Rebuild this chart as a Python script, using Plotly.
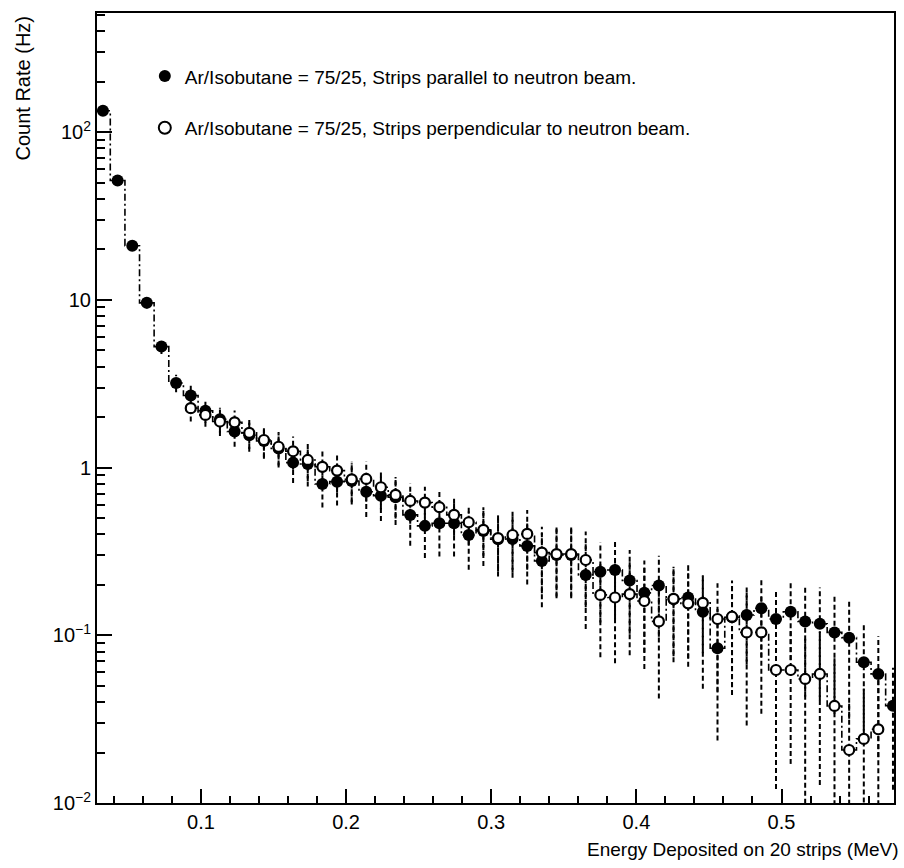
import plotly.graph_objects as go

# Bin centres (MeV)
energy = [0.0325, 0.0426, 0.0527, 0.0627, 0.0728, 0.0829, 0.0930, 0.1031, 0.1131, 0.1232,
          0.1333, 0.1434, 0.1535, 0.1635, 0.1736, 0.1837, 0.1938, 0.2039, 0.2139, 0.2240,
          0.2341, 0.2442, 0.2543, 0.2643, 0.2744, 0.2845, 0.2946, 0.3047, 0.3147, 0.3248,
          0.3349, 0.3450, 0.3551, 0.3651, 0.3752, 0.3853, 0.3954, 0.4055, 0.4155, 0.4256,
          0.4357, 0.4458, 0.4559, 0.4659, 0.4760, 0.4861, 0.4962, 0.5063, 0.5163, 0.5264,
          0.5365, 0.5466, 0.5567, 0.5667, 0.5768]

# Strips parallel to neutron beam (filled)
rate_par = [134, 51.4, 21.0, 9.59, 5.26, 3.19, 2.69, 2.18, 1.94, 1.64,
            1.56, 1.44, 1.30, 1.07, 1.05, 0.798, 0.824, 0.832, 0.718, 0.680,
            0.665, 0.522, 0.449, 0.465, 0.465, 0.396, 0.419, 0.374, 0.375, 0.341,
            0.277, 0.301, 0.301, 0.229, 0.239, 0.245, 0.212, 0.179, 0.198, 0.164,
            0.168, 0.138, 0.0836, 0.128, 0.132, 0.145, 0.125, 0.138, 0.121, 0.117,
            0.104, 0.0968, 0.069, 0.0588, 0.038]
err_par = [3, 2, 1.1, 0.7, 0.5, 0.38, 0.38, 0.33, 0.33, 0.31,
           0.32, 0.31, 0.30, 0.26, 0.28, 0.22, 0.23, 0.23, 0.21, 0.20,
           0.21, 0.18, 0.16, 0.17, 0.17, 0.15, 0.16, 0.15, 0.155, 0.14,
           0.13, 0.135, 0.135, 0.12, 0.12, 0.12, 0.11, 0.10, 0.10, 0.095,
           0.095, 0.09, 0.06, 0.084, 0.065, 0.071, 0.062, 0.067, 0.078, 0.076,
           0.07, 0.065, 0.046, 0.04, 0.026]

# Strips perpendicular to neutron beam (open), starts at 7th bin
rate_perp = [None, None, None, None, None, None, 2.26, 2.06, 1.88, 1.86,
             1.61, 1.46, 1.33, 1.25, 1.11, 1.01, 0.959, 0.851, 0.855, 0.763,
             0.687, 0.632, 0.618, 0.580, 0.522, 0.472, 0.425, 0.380, 0.396, 0.402,
             0.311, 0.305, 0.305, 0.281, 0.174, 0.168, 0.176, 0.160, 0.121, 0.165,
             0.155, 0.156, 0.125, 0.129, 0.104, 0.104, 0.0621, 0.0621, 0.0549, 0.0588,
             0.0379, 0.0207, 0.0241, 0.0275, None]
err_perp = [None, None, None, None, None, None, 0.38, 0.31, 0.34, 0.33,
            0.32, 0.31, 0.30, 0.28, 0.28, 0.26, 0.25, 0.23, 0.23, 0.20,
            0.19, 0.17, 0.15, 0.15, 0.13, 0.126, 0.127, 0.14, 0.16, 0.156,
            0.133, 0.135, 0.135, 0.134, 0.10, 0.10, 0.10, 0.097, 0.079, 0.09,
            0.09, 0.078, 0.079, 0.08, 0.075, 0.07, 0.05, 0.045, 0.045, 0.046,
            0.035, 0.02, 0.024, 0.027, None]

label_par = "Ar/Isobutane = 75/25, Strips parallel to neutron beam."
label_perp = "Ar/Isobutane = 75/25, Strips perpendicular to neutron beam."

y_tickvals = [0.01, 0.1, 1, 10, 100]
y_ticktext = ["10<sup>\u22122</sup>", "10<sup>\u22121</sup>", "1", "10", "10<sup>2</sup>"]
x_tickvals = [0.1, 0.2, 0.3, 0.4, 0.5]
x_ticktext = ["0.1", "0.2", "0.3", "0.4", "0.5"]

FONT = "Liberation Sans"


def err_segments(xs, ys, es):
    sx, sy = [], []
    for x, y, e in zip(xs, ys, es):
        if y is None or e is None:
            continue
        lo = y - e
        if lo <= 0:
            lo = 1e-4
        sx += [x, x, None]
        sy += [lo, y + e, None]
    return sx, sy


fig = go.Figure()

for ys, es in ((rate_par, err_par), (rate_perp, err_perp)):
    sx, sy = err_segments(energy, ys, es)
    fig.add_trace(go.Scatter(x=sx, y=sy, mode="lines", showlegend=False,
                             line=dict(color="black", width=2, dash="5px,3px"),
                             hoverinfo="skip", connectgaps=False))

# step outlines
for ys in (rate_par, rate_perp):
    xs = [x for x, y in zip(energy, ys) if y is not None]
    yv = [y for y in ys if y is not None]
    fig.add_trace(go.Scatter(x=xs, y=yv, mode="lines", showlegend=False,
                             line=dict(color="black", width=1.6, shape="hvh",
                                       dash="7px,3px,2px,3px"),
                             hoverinfo="skip"))

fig.add_trace(go.Scatter(x=energy, y=rate_par, mode="markers", name=label_par,
                         marker=dict(symbol="circle", size=12, color="black"),
                         legendgroup="a", showlegend=True))
fig.add_trace(go.Scatter(x=energy, y=rate_perp, mode="markers", name=label_perp,
                         marker=dict(symbol="circle", size=10, color="white",
                                     line=dict(color="black", width=2.2)),
                         legendgroup="b", showlegend=True))

fig.update_layout(
    width=904, height=868,
    margin=dict(l=97, r=8, t=13, b=65),
    paper_bgcolor="white", plot_bgcolor="white",
    font=dict(family=FONT, size=20, color="black"),
    showlegend=True,
    legend=dict(x=0.06, y=0.944, xanchor="left", yanchor="top",
                traceorder="grouped", tracegroupgap=24,
                font=dict(family=FONT, size=19, color="black"),
                bgcolor="rgba(0,0,0,0)", itemsizing="constant"),
    xaxis=dict(range=[0.0284, 0.5775], showgrid=False, zeroline=False,
               showline=True, linecolor="black", linewidth=2, mirror=True,
               ticks="inside", ticklen=14, tickwidth=1.5, tickcolor="black",
               tickvals=x_tickvals, ticktext=x_ticktext,
               minor=dict(ticks="inside", ticklen=7, tickwidth=1.5, tickcolor="black",
                          tick0=0.0, dtick=0.02, showgrid=False),
               tickfont=dict(size=20)),
    yaxis=dict(type="log", range=[-2, 2.71], showgrid=False, zeroline=False,
               showline=True, linecolor="black", linewidth=2, mirror=True,
               ticks="inside", ticklen=15, tickwidth=1.5, tickcolor="black",
               tickvals=y_tickvals, ticktext=y_ticktext,
               minor=dict(ticks="inside", ticklen=8, tickwidth=1.5, tickcolor="black",
                          tickvals=[m * 10 ** d for d in range(-2, 3) for m in range(2, 10)],
                          showgrid=False),
               tickfont=dict(size=20)),
    annotations=[
        dict(text="Energy Deposited on 20 strips (MeV)", xref="paper", yref="paper",
             x=1, y=0, xanchor="right", yanchor="middle", yshift=-46, xshift=7,
             showarrow=False, font=dict(family=FONT, size=19)),
        dict(text="Count Rate (Hz)", xref="paper", yref="paper", x=0, y=1,
             xanchor="center", yanchor="top", xshift=-75, yshift=-1, showarrow=False,
             textangle=-90, font=dict(family=FONT, size=20)),
    ],
)

fig.write_html("out.html")
